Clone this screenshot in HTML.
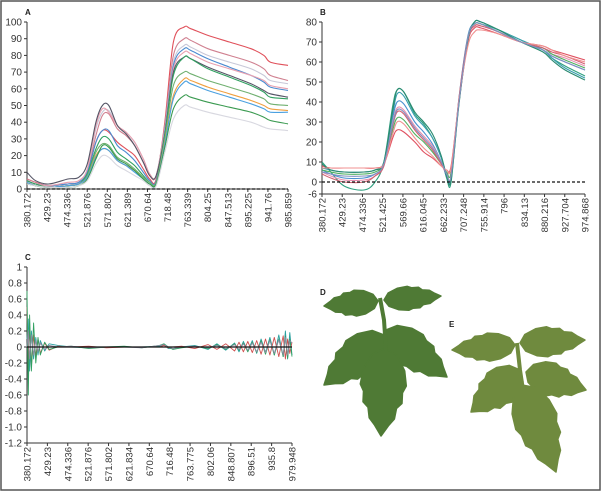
<!DOCTYPE html>
<html><head><meta charset="utf-8"><style>
body{margin:0;background:#fff}
svg{display:block;font-family:"Liberation Sans",Arial,sans-serif}
</style></head><body>
<svg id="fig" width="602" height="492" viewBox="0 0 602 492">
<rect x="1" y="1" width="599" height="489" fill="#fff" stroke="#555" stroke-width="1.5"/>
<g id="pA"></g>
<g id="pB"></g>
<g id="pC"></g>
<g id="leaves"></g>
</svg>
<script>
const NS="http://www.w3.org/2000/svg";
function mk(parent,tag,attrs){const e=document.createElementNS(NS,tag);for(const k in attrs)e.setAttribute(k,attrs[k]);parent.appendChild(e);return e;}

// ---------- Panel A data ----------
const wlA=[380,400,430,475,500,520,540,555,570,590,610,630,650,665,680,700,720,745,760,800,850,900,930,945,986];
const tickLabelsA=["380.172","429.23","474.336","521.876","571.802","621.389","670.64","718.48","763.339","804.25","847.513","895.225","941.76","985.859"];
const yTicksA=[0,10,20,30,40,50,60,70,80,90,100];
const colorsA=["#e0505a","#d08090","#c8c8d8","#4a8ad0","#e8a0b0","#555566","#30a060","#70b070","#f0a040","#4aa0e0","#3a9a50","#d8d8e0"];
const sA1=[6,4,2,3,4,10,28,35,34,28,24,20,12,6,6,40,88,97,96,92,88,84,80,76,74];
const sA2=[6,4,2,3,4,11,32,44,45,36,32,26,16,8,8,38,80,90,89,84,80,76,72,68,65];
const sA3=[5,3,2,3,4,12,36,46,47,38,34,28,18,9,8,36,76,86,85,80,76,72,68,65,63];
const sA4=[5,3,2,3,4,10,28,35,35,26,22,17,10,5,5,35,74,84,83,78,73,68,64,61,59];
const sA5=[5,3,2,4,5,12,38,48,46,38,34,28,18,9,8,34,72,82,81,76,72,68,65,62,60];
const sA6=[10,5,3,6,7,15,40,50,50,38,33,26,16,8,8,33,70,79,78,73,68,63,59,57,55];
const sA7=[5,3,1,2,3,9,24,31,30,22,18,14,8,4,4,32,68,79,78,72,67,62,58,55,54];
const sA8=[4,2,1,2,3,8,22,27,26,19,16,12,7,4,4,30,62,70,69,65,61,57,54,51,50];
const sA9=[4,2,1,2,3,7,20,24,23,17,14,11,6,3,3,28,56,66,65,61,57,53,50,48,47];
const sA10=[4,2,1,2,3,7,19,24,23,17,14,10,6,3,3,27,54,64,63,59,55,51,48,46,46];
const sA11=[3,2,1,1,2,6,18,26,25,18,15,11,6,3,3,25,48,56,55,52,49,46,43,41,39];
const sA12=[3,2,1,1,2,5,15,20,19,14,11,8,5,2,2,22,42,50,49,46,43,40,37,36,35];
const seriesA=[sA1,sA2,sA3,sA4,sA5,sA6,sA7,sA8,sA9,sA10,sA11,sA12];

// ---------- Panel B data ----------
const wlB=[380,400,430,475,500,520,540,550,565,590,610,630,650,662,672,690,710,725,740,780,830,880,900,930,975];
const tickLabelsB=["380.172","429.23","474.336","521.425","569.66","616.045","662.233","707.248","755.914","796","834.13","880.216","927.704","974.868"];
const yTicksB=[80,70,60,50,40,30,20,10,0,-6];
const colorsB=["#e05060","#30a080","#4a90d0","#e890b0","#50b060","#3aa0b0","#d06070","#2a8a70","#f09090","#8090c0"];
const sB1=[8,7,7,7,7,9,22,26,25,20,15,12,8,6,8,40,70,77,77,74,70,68,66,64,61];
const sB2=[10,5,-2,-4,0,10,38,46,45,34,29,22,12,2,0,40,72,79,79,76,71,66,62,58,53];
const sB3=[6,4,2,2,4,9,32,40,39,30,25,19,10,3,2,42,73,79,79,75,70,66,63,60,56];
const sB4=[5,3,1,1,3,9,30,37,36,28,23,18,10,4,3,41,71,78,78,75,70,67,64,62,58];
const sB5=[6,5,4,4,5,9,26,32,31,24,20,15,9,5,5,41,72,79,79,75,70,67,64,61,57];
const sB6=[7,6,5,5,6,10,34,44,43,33,28,22,12,4,3,40,72,80,80,76,71,66,62,57,52];
const sB7=[4,2,0,0,3,8,28,35,34,26,21,16,9,4,3,42,72,78,78,75,70,67,65,63,59];
const sB8=[9,6,5,5,6,10,36,46,45,35,30,24,13,3,1,39,71,80,80,76,70,65,61,56,51];
const sB9=[7,7,7,7,7,9,24,30,29,22,17,13,8,6,7,41,68,75,76,74,70,68,66,63,60];
const sB10=[5,4,3,3,4,9,29,36,35,27,22,17,10,4,3,40,72,79,79,75,70,66,63,60,56];
const seriesB=[sB1,sB2,sB3,sB4,sB5,sB6,sB7,sB8,sB9,sB10];

// ---------- Panel C data ----------
const wlC=[380,383,386,390,395,400,405,410,420,430,450,480,520,560,600,640,680,690,700,710,730,760,790,810,830,850,860,870,880,890,900,910,920,930,940,950,960,965,970,975,980];
const tickLabelsC=["380.172","429.23","474.336","521.876","571.802","621.834","670.64","716.48","763.775","802.06","848.807","896.51","935.8","979.948"];
const yTicksC=[1,0.8,0.6,0.4,0.2,0,-0.2,-0.4,-0.6,-0.8,-1.0,-1.2];
const yTickLabelsC=["1","0.8","0.6","0.4","0.2","0","-0.2","-0.4","-0.6","-0.8","-1.0","-1.2"];
const colorsC=["#2aa0a0","#d05050","#30a060","#8a8aa0"];
const sC1=[0.1,0.35,-0.3,0.2,-0.15,0.12,-0.1,0.08,-0.05,0.04,0.02,0.0,-0.01,0.0,0.0,0.0,0.01,0.03,-0.02,-0.02,0.0,0.02,-0.03,0.04,-0.04,0.05,-0.06,0.07,-0.05,0.08,-0.08,0.1,-0.07,0.12,-0.1,0.15,-0.12,0.2,-0.15,0.18,-0.1];
const sC2=[0.5,-0.2,0.25,-0.25,0.15,-0.12,0.1,-0.08,0.05,-0.04,0.01,0.0,0.01,-0.01,0.0,0.0,0.0,0.02,-0.01,0.0,0.01,-0.02,0.03,-0.03,0.04,-0.05,0.06,-0.06,0.07,-0.07,0.08,-0.09,0.1,-0.1,0.12,-0.12,0.14,-0.15,0.1,-0.08,0.06];
const sC3=[0.7,-0.6,0.4,-0.3,0.3,-0.2,0.12,-0.1,0.06,-0.03,0.0,0.01,-0.02,0.0,0.01,-0.01,0.02,0.04,0.0,-0.03,-0.01,0.01,-0.02,0.03,-0.03,0.04,-0.04,0.05,-0.06,0.06,-0.07,0.08,-0.09,0.09,-0.1,0.1,-0.12,0.13,-0.14,0.1,-0.12];
const sC4=[0.0,0.2,-0.15,0.15,-0.1,0.08,-0.06,0.05,-0.03,0.02,0.0,0.01,-0.01,0.0,0.0,-0.01,0.02,0.03,0.0,-0.02,0.0,0.01,-0.01,0.02,-0.02,0.03,-0.03,0.04,-0.04,0.05,-0.06,0.06,-0.07,0.08,-0.08,0.09,-0.1,0.12,-0.1,0.08,0.05];
const seriesC=[sC1,sC2,sC3,sC4];

function smoothPath(P){
  let d="M"+P[0][0].toFixed(1)+","+P[0][1].toFixed(1);
  for(let i=0;i<P.length-1;i++){
    const p0=P[Math.max(0,i-1)],p1=P[i],p2=P[i+1],p3=P[Math.min(P.length-1,i+2)];
    const c1=[p1[0]+(p2[0]-p0[0])/6,p1[1]+(p2[1]-p0[1])/6];
    const c2=[p2[0]-(p3[0]-p1[0])/6,p2[1]-(p3[1]-p1[1])/6];
    d+=" C"+c1[0].toFixed(1)+","+c1[1].toFixed(1)+" "+c2[0].toFixed(1)+","+c2[1].toFixed(1)+" "+p2[0].toFixed(1)+","+p2[1].toFixed(1);
  }
  return d;
}

function panel(g,cfg){
  const sx=v=>cfg.x0+(v-cfg.wMin)/(cfg.wMax-cfg.wMin)*(cfg.x1-cfg.x0);
  const sy=v=>cfg.yZero-(v)*cfg.pxPerUnit;
  const t=mk(g,"text",{x:cfg.x0-2,y:cfg.letterY,"font-size":"8","font-weight":"bold",fill:"#222"});
  t.textContent=cfg.letter;
  
  
  const ya=mk(g,"line",{x1:cfg.x0,y1:sy(cfg.yTicks[0]),x2:cfg.x0,y2:sy(cfg.yTicks[cfg.yTicks.length-1]),stroke:"#333","stroke-width":"1"});
  
  
  cfg.yTicks.forEach((v,i)=>{
    const yy=sy(v);
    mk(g,"line",{x1:cfg.x0-3,y1:yy,x2:cfg.x0,y2:yy,stroke:"#333","stroke-width":"1"});
    const tl=mk(g,"text",{x:cfg.x0-5,y:yy+3.5,"font-size":"10","text-anchor":"end",fill:"#333"});
    tl.textContent=cfg.yLabels?cfg.yLabels[i]:String(v);
    
    
  });
  const yb=sy(cfg.yTicks[cfg.yTicks.length-1]);
  const xa=mk(g,"line",{x1:cfg.x0,y1:yb,x2:cfg.x1,y2:yb,stroke:"#333","stroke-width":"1"});
  
  
  const n=cfg.xLabels.length;
  cfg.xLabels.forEach((lab,i)=>{
    const xx=cfg.x0+i*(cfg.x1-cfg.x0)/(n-1);
    mk(g,"line",{x1:xx,y1:yb,x2:xx,y2:yb+3,stroke:"#333","stroke-width":"1"});
    const tl=mk(g,"text",{x:0,y:0,"font-size":"9.5","text-anchor":"end",fill:"#333",transform:`translate(${xx+3.5},${yb+4}) rotate(-90)`});
    tl.textContent=lab;
    
    
  });
  cfg.series.forEach((s,i)=>{
    const P=s.map((v,j)=>[sx(cfg.wl[j]),sy(v)]);
    const d=cfg.smooth?smoothPath(P):P.map((p,j)=>(j?"L":"M")+p[0].toFixed(1)+","+p[1].toFixed(1)).join(" ");
    const p=mk(g,"path",{d:d,fill:"none",stroke:cfg.colors[i%cfg.colors.length],"stroke-width":cfg.sw||"1.1","stroke-linejoin":"round"});
    
    
  });
  const z=mk(g,"line",{x1:cfg.x0,y1:sy(0),x2:cfg.x1,y2:sy(0),stroke:"#111","stroke-width":"1.2","stroke-dasharray":cfg.dash||"3,2"});
  
  
}

panel(document.getElementById("pA"),{letter:"A",letterY:15,x0:27,x1:288,wMin:380,wMax:986,yZero:189,pxPerUnit:1.67,yTicks:yTicksA.slice().reverse(),xLabels:tickLabelsA,series:seriesA,wl:wlA,colors:colorsA,smooth:true});
panel(document.getElementById("pB"),{letter:"B",letterY:15,x0:322,x1:585,wMin:380,wMax:975,yZero:182,pxPerUnit:2,yTicks:yTicksB,xLabels:tickLabelsB,series:seriesB,wl:wlB,colors:colorsB,smooth:true});
panel(document.getElementById("pC"),{letter:"C",letterY:260,x0:27,x1:292,wMin:380,wMax:980,yZero:347,pxPerUnit:80,yTicks:yTicksC,yLabels:yTickLabelsC,xLabels:tickLabelsC,series:seriesC,wl:wlC,colors:colorsC,sw:"0.9",dash:"none"});

// ---------- leaves ----------
const L=document.getElementById("leaves");
function leaf(bx,by,tx,ty,w,fill,name){
  const dx=tx-bx,dy=ty-by,len=Math.hypot(dx,dy),ux=dx/len,uy=dy/len,px=-uy,py=ux;
  const pts=[[0,0],[0.08,0.55],[0.25,0.9],[0.42,1],[0.5,0.85],[0.62,0.85],[0.68,0.62],[0.8,0.55],[0.88,0.3],[1,0]];
  const side=sgn=>pts.map(([t,h])=>[bx+ux*len*t+px*w*h*sgn,by+uy*len*t+py*w*h*sgn]);
  const a=side(1),b=side(-1).reverse();
  const d="M"+a.concat(b).map(p=>p[0].toFixed(1)+","+p[1].toFixed(1)).join(" L")+"Z";
  const p=mk(L,"path",{d:d,fill:fill,stroke:fill,"stroke-width":"1.5","stroke-linejoin":"round"});
  
  
}
const gD="#4f7a35",gE="#6f8a3e";
leaf(378,301,324,306,13,gD,"leaf-d-top-left");
leaf(384,300,441,296,12,gD,"leaf-d-top-right");
leaf(384,335,324,385,20,gD,"leaf-d-mid-left");
leaf(386,330,447,377,19,gD,"leaf-d-mid-right");
leaf(385,348,381,436,23,gD,"leaf-d-terminal");
mk(L,"path",{d:"M380,298 L384,320 L386,350",stroke:gD,"stroke-width":"4",fill:"none"});
leaf(515,345,452,350,14,gE,"leaf-e-top-left");
leaf(520,343,585,340,15,gE,"leaf-e-top-right");
leaf(520,370,471,412,19,gE,"leaf-e-mid-left");
leaf(526,372,586,390,17,gE,"leaf-e-mid-right");
leaf(522,385,556,472,22,gE,"leaf-e-terminal");
mk(L,"path",{d:"M517,343 L520,370 L523,390",stroke:gE,"stroke-width":"4",fill:"none"});
const tD=mk(L,"text",{x:320,y:295,"font-size":"8","font-weight":"bold",fill:"#222"});tD.textContent="D";


const tE=mk(L,"text",{x:449,y:327,"font-size":"8","font-weight":"bold",fill:"#222"});tE.textContent="E";


</script>
</body></html>
